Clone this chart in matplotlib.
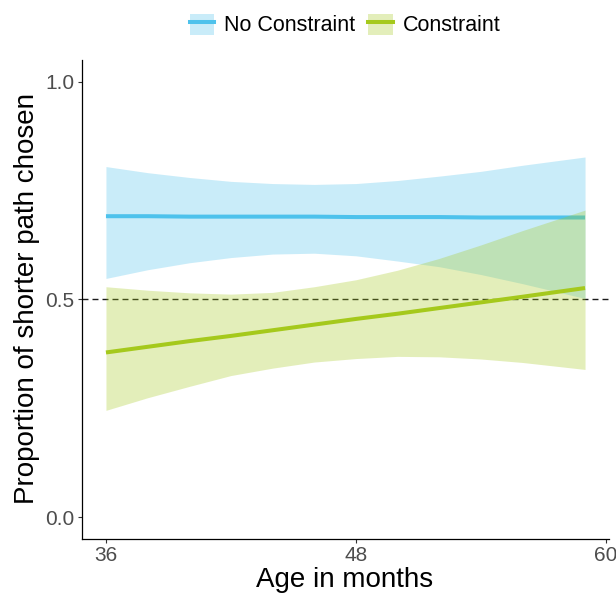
import matplotlib
matplotlib.use("Agg")
import matplotlib.pyplot as plt
from matplotlib.patches import Patch
from matplotlib.lines import Line2D

plt.rcParams['font.family'] = ['Liberation Sans', 'DejaVu Sans']

# smoothed fits (age in months)
age = [36, 38, 40, 42, 44, 46, 48, 50, 52, 54, 56, 59]

nocon_fit = [0.691, 0.691, 0.690, 0.690, 0.690, 0.690, 0.689, 0.689, 0.689, 0.688, 0.688, 0.688]
nocon_hi = [0.805, 0.791, 0.780, 0.771, 0.766, 0.764, 0.766, 0.773, 0.783, 0.794, 0.808, 0.827]
nocon_lo = [0.548, 0.568, 0.584, 0.596, 0.604, 0.606, 0.600, 0.588, 0.575, 0.557, 0.536, 0.502]

con_fit = [0.378, 0.391, 0.404, 0.416, 0.429, 0.442, 0.455, 0.467, 0.480, 0.493, 0.506, 0.526]
con_hi = [0.529, 0.521, 0.515, 0.512, 0.516, 0.529, 0.545, 0.567, 0.594, 0.625, 0.658, 0.705]
con_lo = [0.245, 0.274, 0.300, 0.325, 0.342, 0.356, 0.364, 0.369, 0.368, 0.363, 0.355, 0.339]

series = ["No Constraint", "Constraint"]
colors = ["#4EC2EC", "#A5C91C"]
x_ticks = [36, 48, 60]
y_ticks = [0.0, 0.5, 1.0]

fig = plt.figure(figsize=(6.16, 5.94), dpi=100)
ax = fig.add_axes([82 / 616, 1 - 538.8 / 594, 527 / 616, (538.8 - 59.9) / 594])

ax.axhline(0.5, color="#1a1a1a", lw=1.0, dashes=(4.3, 2.9), zorder=1)

handles = []
for name, col, fit, lo, hi in zip(series, colors,
                                  [nocon_fit, con_fit],
                                  [nocon_lo, con_lo],
                                  [nocon_hi, con_hi]):
    ax.fill_between(age, lo, hi, color=col, alpha=0.3, lw=0, zorder=2)
    ax.plot(age, fit, color=col, lw=2.9, zorder=2, solid_capstyle="butt")
    handles.append((Patch(facecolor=col, alpha=0.3, lw=0),
                    Line2D([], [], color=col, lw=2.9)))

ax.set_xlim(34.85, 60.15)
ax.set_ylim(-0.05, 1.05)
ax.set_xticks(x_ticks)
ax.set_yticks(y_ticks)
ax.set_yticklabels([f"{v:.1f}" for v in y_ticks])

for s in ["top", "right"]:
    ax.spines[s].set_visible(False)
for s in ["left", "bottom"]:
    ax.spines[s].set_linewidth(0.9)
    ax.spines[s].set_color("black")
ax.tick_params(axis="both", length=3, width=0.8, color="#333333",
               labelsize=15, labelcolor="#4D4D4D", pad=2.5)

fig.text(345 / 616, 1 - 580 / 594, "Age in months", ha="center", va="center", fontsize=20)
fig.text(27 / 616, 1 - 298 / 594, "Proportion of shorter path chosen", ha="center",
         va="center", rotation=90, fontsize=20)

fig.legend(handles, series, loc="center", bbox_to_anchor=(345 / 616, 1 - 25 / 594),
           ncol=2, frameon=False, fontsize=15.5, handlelength=1.15, handleheight=1.15,
           handletextpad=0.45, columnspacing=0.6, borderpad=0)

fig.savefig("out.png", dpi=100)
